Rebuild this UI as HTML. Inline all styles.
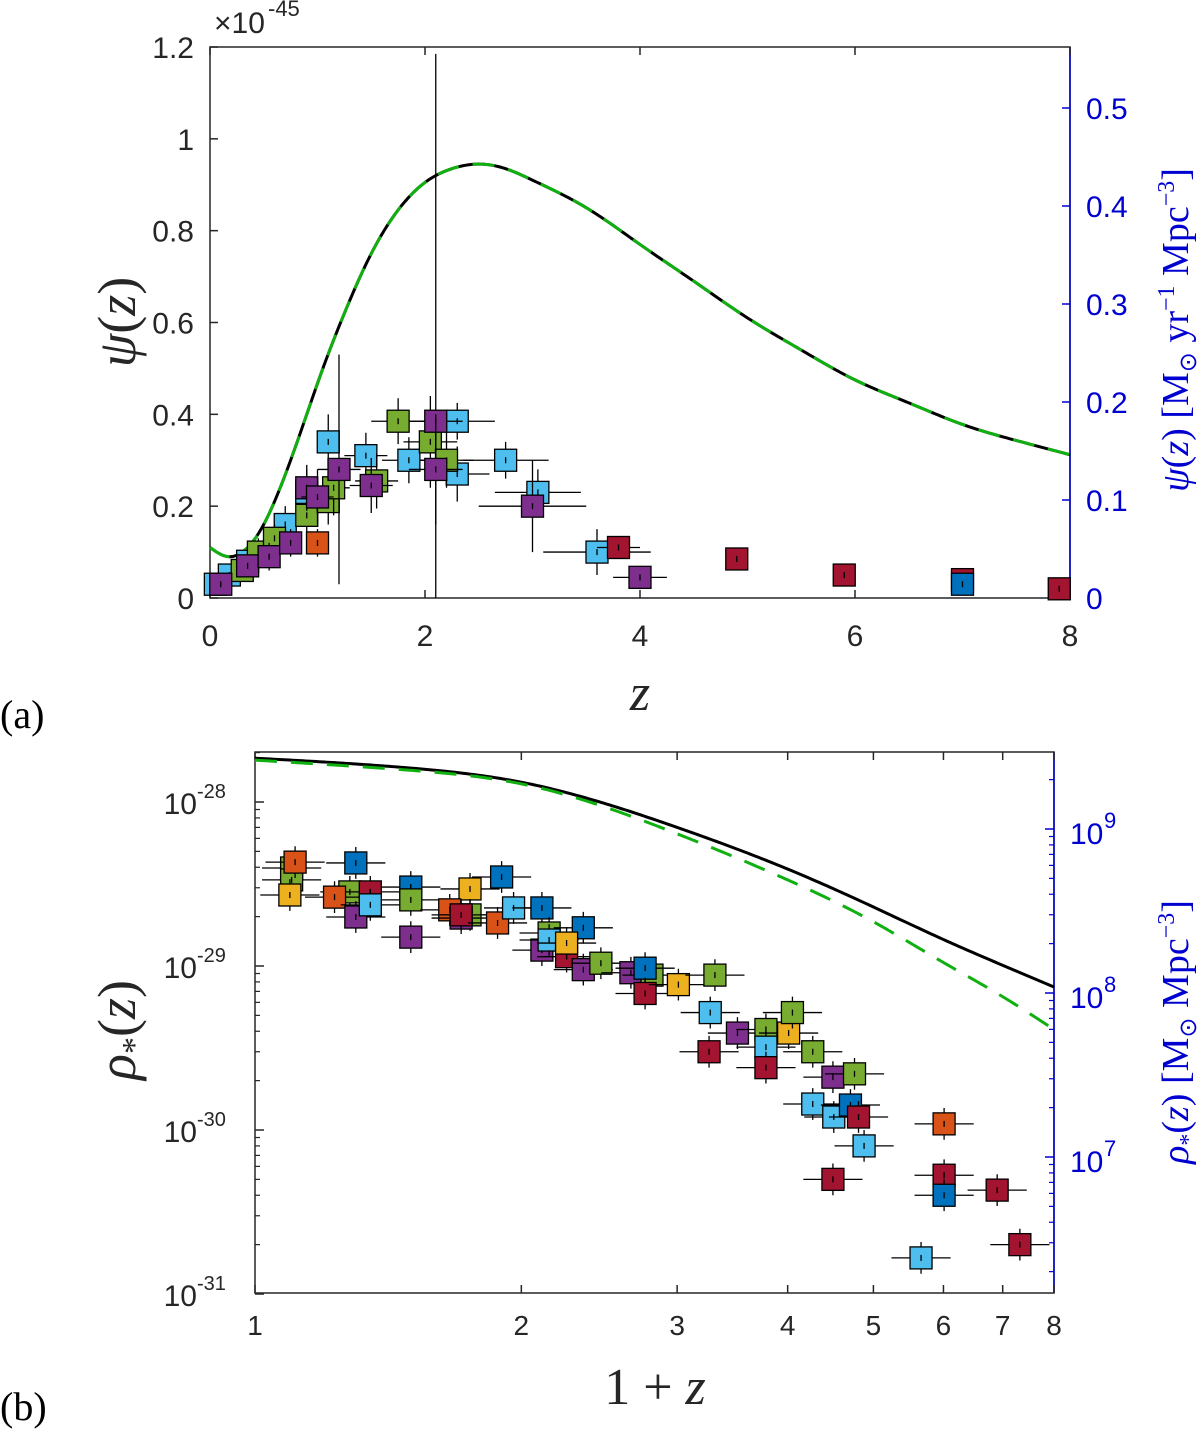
<!DOCTYPE html>
<html><head><meta charset="utf-8"><style>
body{margin:0;background:#fff}
svg{display:block}
text{font-family:"Liberation Sans",sans-serif}
.m{font-family:"Liberation Serif",serif}
</style></head><body>
<svg id="fig" width="1200" height="1429" viewBox="0 0 1200 1429" xmlns="http://www.w3.org/2000/svg">
<g id="pa"></g>
<g id="pb"></g>
</svg>
<script>
// ---------- Panel (a) data ----------
const aCurveZ=[0,0.1,0.2,0.3,0.45,0.6,0.75,0.9,1.05,1.25,1.5,1.75,2,2.25,2.5,2.75,3,3.5,4,4.5,5,5.5,6,6.5,7,7.5,8];
const aCurvePsi=[0.11,0.095,0.09,0.1,0.14,0.21,0.3,0.4,0.5,0.62,0.75,0.845,0.905,0.935,0.945,0.935,0.91,0.85,0.77,0.69,0.61,0.54,0.475,0.425,0.378,0.343,0.312];
const aColors=["lb","lb","lb","lb","lb","lb","lb","lb","lb","lb","lb","lb","lb",
 "gr","gr","gr","gr","gr","gr","gr","gr","gr","gr",
 "pu","pu","pu","pu","pu","pu","pu","pu","pu","pu","pu","pu",
 "rd","rd","rd","rd","rd","or","bl"];
const aZ=[0.05,0.18,0.35,0.7,0.9,1.1,1.45,1.85,2.3,2.3,2.75,3.05,3.6,
 0.3,0.45,0.6,0.9,1.1,1.15,1.55,1.75,2.05,2.2,
 0.1,0.35,0.55,0.75,0.9,1.0,1.2,1.5,2.1,2.1,3.0,4.0,
 3.8,4.9,5.9,7.0,7.9,1.0,7.0];
const aPsi=[0.03,0.05,0.08,0.16,0.23,0.34,0.31,0.3,0.27,0.385,0.3,0.23,0.1,
 0.06,0.1,0.13,0.18,0.21,0.24,0.255,0.385,0.34,0.3,
 0.03,0.07,0.09,0.12,0.24,0.22,0.28,0.245,0.385,0.28,0.2,0.045,
 0.11,0.085,0.05,0.04,0.02,0.12,0.03];
const aXerr=[0.05,0.1,0.1,0.1,0.1,0.1,0.2,0.25,0.3,0.35,0.4,0.4,0.5,
 0.1,0.1,0.1,0.1,0.1,0.15,0.2,0.25,0.25,0.25,
 0.1,0.1,0.1,0.1,0.1,0.15,0.2,0.2,0.25,0.25,0.5,0.25,
 0.2,0,0,0,0,0.1,0];
const aYerr=[0.02,0.02,0.03,0.04,0.05,0.06,0.05,0.05,0.06,0.04,0.04,0.05,0.05,
 0.02,0.03,0.03,0.05,0.05,0.06,0.06,0.05,0.1,0.06,
 0.02,0.02,0.03,0.03,0.05,0.06,0.25,0.06,0.8,0.12,0.1,0.02,
 0.02,0.02,0.02,0.01,0.01,0.03,0.01];
const aXTicks=[0,2,4,6,8];
const aYTicks=[0,0.2,0.4,0.6,0.8,1,1.2];
const aYTickLabels=["0","0.2","0.4","0.6","0.8","1","1.2"];
const aRTicks=[0,0.1,0.2,0.3,0.4,0.5];

// ---------- Panel (b) data ----------
const bCurveX=[1,1.5,2,3,4,5,6,7,8];
const bBlack=[18.5,16.1,13.2,7.0,3.9,2.29,1.45,1.01,0.745];
const bGreen=[18.0,15.6,12.9,6.4,3.35,1.86,1.05,0.65,0.41];
const bColors=["gr","gr","ye","or","bl","gr","bl","rd","or","pu","lb","gr","pu","ye","or","gr","pu","rd","or","bl","lb","bl","pu","gr","lb","bl","rd","ye","pu","gr","pu","gr","bl","rd","ye","gr","lb","rd","pu","gr","ye","lb","gr","rd","gr","pu","gr","lb","lb","bl","rd","lb","rd","or","rd","bl","rd","lb","rd"];
const bX=[1.10,1.10,1.095,1.11,1.30,1.28,1.50,1.35,1.23,1.30,1.35,1.50,1.50,1.75,1.66,1.75,1.71,1.71,1.88,1.90,1.96,2.11,2.11,2.15,2.15,2.35,2.25,2.25,2.35,2.46,2.66,2.81,2.76,2.76,3.01,3.31,3.27,3.26,3.51,3.78,4.01,3.78,4.05,3.78,4.27,4.50,4.76,4.27,4.51,4.71,4.81,4.88,4.50,6.01,6.01,6.01,6.90,5.66,7.32];
const bRho=[3.96,3.35,2.71,4.30,4.25,2.83,3.03,2.83,2.63,1.99,2.36,2.53,1.50,2.95,2.20,2.05,1.96,2.05,1.83,3.49,2.26,2.26,1.25,1.59,1.44,1.71,1.14,1.38,0.95,1.04,0.91,0.88,0.97,0.68,0.77,0.88,0.52,0.30,0.39,0.41,0.39,0.32,0.52,0.24,0.30,0.21,0.22,0.144,0.120,0.142,0.120,0.080,0.050,0.109,0.053,0.040,0.043,0.0166,0.020];
const bXTicks=[1,2,3,4,5,6,7,8];
const bYExp=[-28,-29,-30,-31];
const bRExp=[7,8,9];

const COL={lb:"#4DBEEE",gr:"#77AC30",pu:"#7E2F8E",rd:"#A2142F",or:"#D95319",ye:"#EDB120",bl:"#0072BD"};
const NS="http://www.w3.org/2000/svg";
const SQ=22;
function mk(p,tag,at,txt){const e=document.createElementNS(NS,tag);for(const k in at)e.setAttribute(k,at[k]);if(txt!==undefined)e.textContent=txt;p.appendChild(e);return e;}
function spline(xs,ys,n){const N=xs.length,h=[],a=[],l=[1],mu=[0],z=[0],c=new Array(N).fill(0),b=[],d=[];
for(let i=0;i<N-1;i++)h.push(xs[i+1]-xs[i]);
for(let i=1;i<N-1;i++){a[i]=3/h[i]*(ys[i+1]-ys[i])-3/h[i-1]*(ys[i]-ys[i-1]);}
for(let i=1;i<N-1;i++){l[i]=2*(xs[i+1]-xs[i-1])-h[i-1]*mu[i-1];mu[i]=h[i]/l[i];z[i]=(a[i]-h[i-1]*z[i-1])/l[i];}
for(let j=N-2;j>0;j--){c[j]=z[j]-mu[j]*c[j+1];}
for(let j=0;j<N-1;j++){b[j]=(ys[j+1]-ys[j])/h[j]-h[j]*(c[j+1]+2*c[j])/3;d[j]=(c[j+1]-c[j])/(3*h[j]);}
const out=[];for(let k=0;k<=n;k++){const X=xs[0]+(xs[N-1]-xs[0])*k/n;let j=0;while(j<N-2&&X>xs[j+1])j++;const t=X-xs[j];out.push([X,ys[j]+b[j]*t+c[j]*t*t+d[j]*t*t*t]);}return out;}
function poly(pts){return "M"+pts.map(p=>p[0].toFixed(2)+","+p[1].toFixed(2)).join(" L");}

// ---------- Panel a ----------
(function(){
const g=document.getElementById('pa');
const L=210,R=1070,T=47,B=598;
const x=z=>L+(z/8)*(R-L);
const y=v=>B-(v/1.2)*(B-T);
const yr=v=>B-v*980;
let e;
e=mk(g,'rect',{x:L,y:T,width:R-L,height:B-T,fill:'none',stroke:'#262626','stroke-width':1.5});

e=mk(g,'line',{x1:R,y1:T,x2:R,y2:B,stroke:'#0000d0','stroke-width':1.5});

aXTicks.forEach(t=>{mk(g,'line',{x1:x(t),y1:B,x2:x(t),y2:B-8,stroke:'#262626','stroke-width':1.5});mk(g,'line',{x1:x(t),y1:T,x2:x(t),y2:T+8,stroke:'#262626','stroke-width':1.5});
 e=mk(g,'text',{x:x(t),y:B+48,'font-size':30,'text-anchor':'middle',fill:'#262626'},String(t));});
aYTicks.forEach((t,i)=>{mk(g,'line',{x1:L,y1:y(t),x2:L+8,y2:y(t),stroke:'#262626','stroke-width':1.5});
 e=mk(g,'text',{x:L-16,y:y(t)+11,'font-size':30,'text-anchor':'end',fill:'#262626'},aYTickLabels[i]);});
aRTicks.forEach(t=>{mk(g,'line',{x1:R,y1:yr(t),x2:R-8,y2:yr(t),stroke:'#0000d0','stroke-width':1.5});
 e=mk(g,'text',{x:R+16,y:yr(t)+11,'font-size':30,fill:'#0000d0'},String(t));});
e=mk(g,'text',{x:214,y:33,'font-size':30,fill:'#262626'},'×10');
mk(g,'text',{x:268,y:16,'font-size':22,fill:'#262626'},'-45');
e=mk(g,'text',{class:'m',x:640,y:710,'font-size':52,'font-style':'italic','text-anchor':'middle',fill:'#262626'},'z');
e=mk(g,'text',{class:'m',x:0,y:0,'font-size':54,'text-anchor':'middle',fill:'#262626',transform:'translate(135,322) rotate(-90)'},'');
e.innerHTML='<tspan font-style="italic">ψ</tspan>(<tspan font-style="italic">z</tspan>)';
e=mk(g,'text',{class:'m',x:0,y:0,'font-size':38,'text-anchor':'middle',fill:'#0000d0',transform:'translate(1188,330) rotate(-90)'},'');
e.innerHTML='<tspan font-style="italic">ψ</tspan>(<tspan font-style="italic">z</tspan>) [M<tspan font-size="24" dy="8">⊙</tspan><tspan dy="-8"> yr</tspan><tspan font-size="24" dy="-14">−1</tspan><tspan dy="14"> Mpc</tspan><tspan font-size="24" dy="-14">−3</tspan><tspan dy="14">]</tspan>';

e=mk(g,'text',{class:'m',x:0,y:728,'font-size':40,fill:'#000'},'(a)');
const pts=spline(aCurveZ,aCurvePsi,300).map(p=>[x(p[0]),y(p[1])]);
e=mk(g,'path',{d:poly(pts),fill:'none',stroke:'#000','stroke-width':3});
e=mk(g,'path',{d:poly(pts),fill:'none',stroke:'#10b010','stroke-width':3,'stroke-dasharray':'22 14'});
aZ.forEach((z,i)=>{const cx=x(z),cy=y(aPsi[i]);
 e=mk(g,'path',{d:`M${x(Math.max(0,z-aXerr[i]))},${cy}H${x(Math.min(8,z+aXerr[i]))}M${cx},${y(Math.max(0,aPsi[i]-aYerr[i]))}V${y(aPsi[i]+aYerr[i])}`,stroke:'#000','stroke-width':1.3});
 
 e=mk(g,'rect',{x:cx-SQ/2,y:cy-SQ/2,width:SQ,height:SQ,fill:COL[aColors[i]],stroke:'#000','stroke-width':1.3});
 
 mk(g,'line',{x1:cx,y1:cy-3,x2:cx,y2:cy+3,stroke:'#000','stroke-width':1.3});});
})();

// ---------- Panel b ----------
(function(){
const g=document.getElementById('pb');
const L=255,R=1054,T=752,B=1293;
const x=v=>L+Math.log10(v)/Math.log10(8)*(R-L);
const dec=164;
const y=r=>802-(Math.log10(r*1e-29)+28)*dec;
const yr=ex=>993-(ex-8)*dec;
let e;
e=mk(g,'rect',{x:L,y:T,width:R-L,height:B-T,fill:'none',stroke:'#262626','stroke-width':1.5});

e=mk(g,'line',{x1:R,y1:T,x2:R,y2:B,stroke:'#0000d0','stroke-width':1.5});

bXTicks.forEach(t=>{mk(g,'line',{x1:x(t),y1:B,x2:x(t),y2:B-8,stroke:'#262626','stroke-width':1.5});mk(g,'line',{x1:x(t),y1:T,x2:x(t),y2:T+8,stroke:'#262626','stroke-width':1.5});
 e=mk(g,'text',{x:x(t),y:B+42,'font-size':28,'text-anchor':'middle',fill:'#262626'},String(t));});
bYExp.forEach(ex=>{const yy=802-(ex+28)*dec;mk(g,'line',{x1:L,y1:yy,x2:L+9,y2:yy,stroke:'#262626','stroke-width':1.5});
 for(let k=2;k<=9;k++){const ym=yy-Math.log10(k)*dec;if(ym>T&&ym<B)mk(g,'line',{x1:L,y1:ym,x2:L+5,y2:ym,stroke:'#262626','stroke-width':1.2});}
 e=mk(g,'text',{x:L-58,y:yy+12,'font-size':30,'text-anchor':'end',fill:'#262626'},'10');
 mk(g,'text',{x:L-58,y:yy-4,'font-size':20,fill:'#262626'},String(ex));});
[6,7,8,9].forEach(ex=>{const yy=yr(ex);if(yy>T&&yy<B){mk(g,'line',{x1:R,y1:yy,x2:R-9,y2:yy,stroke:'#0000d0','stroke-width':1.5});}
 for(let k=2;k<=9;k++){const ym=yy-Math.log10(k)*dec;if(ym>T&&ym<B)mk(g,'line',{x1:R,y1:ym,x2:R-5,y2:ym,stroke:'#0000d0','stroke-width':1.2});}
 if(bRExp.includes(ex)){e=mk(g,'text',{x:R+16,y:yy+15,'font-size':30,fill:'#0000d0'},'10');
 mk(g,'text',{x:R+50,y:yy-1,'font-size':22,fill:'#0000d0'},String(ex));}});
e=mk(g,'text',{class:'m',x:655,y:1404,'font-size':52,'text-anchor':'middle',fill:'#262626'},'');
e.innerHTML='1 + <tspan font-style="italic">z</tspan>';
e=mk(g,'text',{class:'m',x:0,y:0,'font-size':54,'text-anchor':'middle',fill:'#262626',transform:'translate(135,1030) rotate(-90)'},'');
e.innerHTML='<tspan font-style="italic">ρ</tspan><tspan font-size="34" dy="10">*</tspan><tspan dy="-10">(</tspan><tspan font-style="italic">z</tspan>)';
e=mk(g,'text',{class:'m',x:0,y:0,'font-size':38,'text-anchor':'middle',fill:'#0000d0',transform:'translate(1188,1032) rotate(-90)'},'');
e.innerHTML='<tspan font-style="italic">ρ</tspan><tspan font-size="24" dy="8">*</tspan><tspan dy="-8">(</tspan><tspan font-style="italic">z</tspan>) [M<tspan font-size="24" dy="8">⊙</tspan><tspan dy="-8"> Mpc</tspan><tspan font-size="24" dy="-14">−3</tspan><tspan dy="14">]</tspan>';

e=mk(g,'text',{class:'m',x:0,y:1420,'font-size':40,fill:'#000'},'(b)');
const lx=bCurveX.map(v=>Math.log10(v));
const pb=spline(lx,bBlack.map(v=>Math.log10(v)),300).map(p=>[x(Math.pow(10,p[0])),y(Math.pow(10,p[1]))]);
const pg=spline(lx,bGreen.map(v=>Math.log10(v)),300).map(p=>[x(Math.pow(10,p[0])),y(Math.pow(10,p[1]))]);
e=mk(g,'path',{d:poly(pb),fill:'none',stroke:'#000','stroke-width':3});
e=mk(g,'path',{d:poly(pg),fill:'none',stroke:'#10b010','stroke-width':3,'stroke-dasharray':'22 14'});
bX.forEach((v,i)=>{const cx=x(v),cy=y(bRho[i]);
 const xf=1.08,yf=1.25;
 e=mk(g,'path',{d:`M${Math.max(L,x(v/xf))},${cy}H${Math.min(R,x(v*xf))}M${cx},${y(bRho[i]/yf)}V${y(bRho[i]*yf)}`,stroke:'#000','stroke-width':1.3});
 
 e=mk(g,'rect',{x:cx-SQ/2,y:cy-SQ/2,width:SQ,height:SQ,fill:COL[bColors[i]],stroke:'#000','stroke-width':1.3});
 
 mk(g,'line',{x1:cx,y1:cy-3,x2:cx,y2:cy+3,stroke:'#000','stroke-width':1.3});});
})();
</script>
</body></html>
